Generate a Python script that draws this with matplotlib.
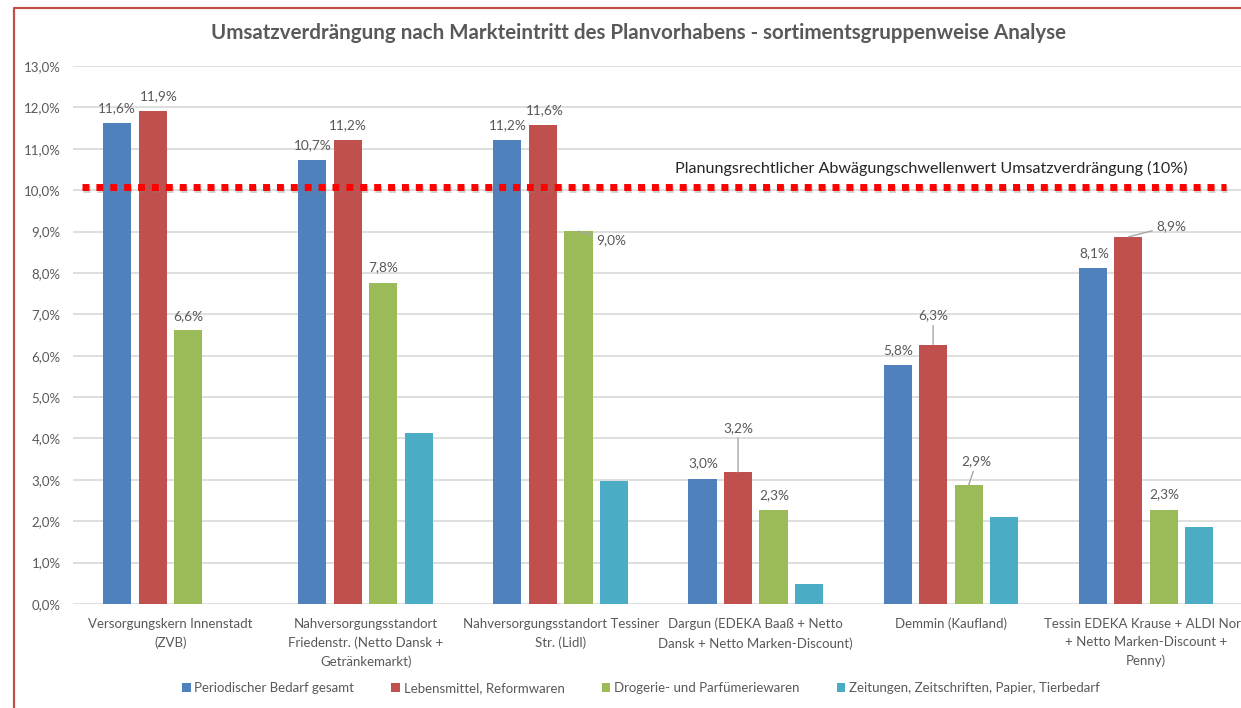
import matplotlib
matplotlib.use("Agg")
import matplotlib.pyplot as plt
import matplotlib.patheffects as pe
from matplotlib.lines import Line2D
import numpy as np

# ---------------- data ----------------
categories = [
    "Versorgungskern Innenstadt\n(ZVB)",
    "Nahversorgungsstandort\nFriedenstr. (Netto Dansk +\nGetränkemarkt)",
    "Nahversorgungsstandort Tessiner\nStr. (Lidl)",
    "Dargun (EDEKA Baaß + Netto\nDansk + Netto Marken-Discount)",
    "Demmin (Kaufland)",
    "Tessin EDEKA Krause + ALDI Nord\n+ Netto Marken-Discount +\nPenny)",
]
series_names = [
    "Periodischer Bedarf gesamt",
    "Lebensmittel, Reformwaren",
    "Drogerie- und Parfümeriewaren",
    "Zeitungen, Zeitschriften, Papier, Tierbedarf",
]
periodischer = [11.62, 10.72, 11.20, 3.02, 5.77, 8.12]
lebensmittel = [11.91, 11.21, 11.58, 3.19, 6.27, 8.87]
drogerie = [6.61, 7.76, 9.01, 2.28, 2.87, 2.26]
zeitungen = [np.nan, 4.12, 2.98, 0.48, 2.11, 1.87]
threshold = 10.07
threshold_label = "Planungsrechtlicher Abwägungschwellenwert Umsatzverdrängung (10%)"
title = "Umsatzverdrängung nach Markteintritt des Planvorhabens - sortimentsgruppenweise Analyse"
yticks = list(range(0, 14))

# ---------------- style ----------------
colors = ["#4f81bd", "#c0504d", "#9bbb59", "#4bacc6"]
txt = "#595959"
FONT = ["Lato", "DejaVu Sans"]
plt.rcParams["font.family"] = FONT

W, H = 1241, 708
fig = plt.figure(figsize=(W / 100, H / 100), dpi=100)
ax = fig.add_axes([73 / W, (H - 604) / H, (W - 73) / W, 538 / H])

x = np.arange(len(categories))
bw, step = 0.144, 0.182
all_series = [periodischer, lebensmittel, drogerie, zeitungen]
handles = []
for i, vals in enumerate(all_series):
    b = ax.bar(x + (i - 1.5) * step, vals, bw, color=colors[i], zorder=2,
               label=series_names[i])
    handles.append(b)

ax.set_xlim(-0.5, (W - 171) / 195)
ax.set_ylim(0, 13)
ax.set_yticks(yticks)
ax.set_yticklabels([f"{v:.1f}%".replace(".", ",") for v in yticks])
ax.set_xticks(x)
ax.set_xticklabels(categories, linespacing=1.62)
ax.tick_params(axis="both", length=0, colors=txt, labelsize=9.5)
ax.tick_params(axis="x", pad=10)
ax.tick_params(axis="y", pad=9)
for s in ax.spines.values():
    s.set_visible(False)
ax.grid(axis="y", color="#d9d9d9", lw=1.2, zorder=0)
ax.set_axisbelow(True)

# threshold line
ax.axhline(threshold, xmin=0.008, xmax=0.987, color="#ff0000", lw=5.0,
           linestyle=(0, (1, 1.0)), dash_capstyle="butt", zorder=3,
           path_effects=[pe.SimpleLineShadow(offset=(0.5, -1.5), shadow_color="gray", alpha=0.35),
                         pe.Normal()])
ax.text(3.9, threshold + 0.45, threshold_label, ha="center", va="center",
        fontsize=11.6, color="#262626")

# data labels (offsets in pixels: dx, dy, leader)
label_offsets = [
    [(0, 15, 0), (0, 15, 0), (0, 15, 0), (1, 16, 0), (1, 15, 0), (2, 15, 0)],
    [(6, 15, 0), (0, 15, 0), (2, 15, 0), (0, 44, 1), (0, 29, 1), (43, 11, 1)],
    [(0, 14, 0), (0, 16, 0), (33, -9, 1), (1, 14, 0), (8, 24, 1), (1, 16, 0)],
]
for i in range(3):
    for j, v in enumerate(all_series[i]):
        dx, dy, lead = label_offsets[i][j]
        kw = {}
        if lead:
            kw["arrowprops"] = dict(arrowstyle="-", color="#a6a6a6", lw=1,
                                    shrinkA=1, shrinkB=0)
        ax.annotate(f"{v:.1f}%".replace(".", ","), xy=(x[j] + (i - 1.5) * step, v),
                    xytext=(dx, dy), textcoords="offset pixels", ha="center",
                    va="center", fontsize=9.8, color=txt, zorder=4, **kw)

fig.text(639 / W, 1 - 33 / H, title, ha="center", va="center", fontsize=14.8,
         fontweight="bold", color=txt)

fig.legend(handles, series_names, loc="center", bbox_to_anchor=(641 / W, 1 - 688 / H),
           ncol=4, frameon=False, fontsize=9.5, labelcolor=txt,
           handlelength=0.65, handleheight=0.65, handletextpad=0.3, columnspacing=2.8)

# chart border (left and top visible)
fig.add_artist(Line2D([14 / W, 14 / W, 1.0], [0, 1 - 8 / H, 1 - 8 / H],
                      transform=fig.transFigure, color="#c0504d", lw=1.6))

fig.savefig("out.png", dpi=100)
